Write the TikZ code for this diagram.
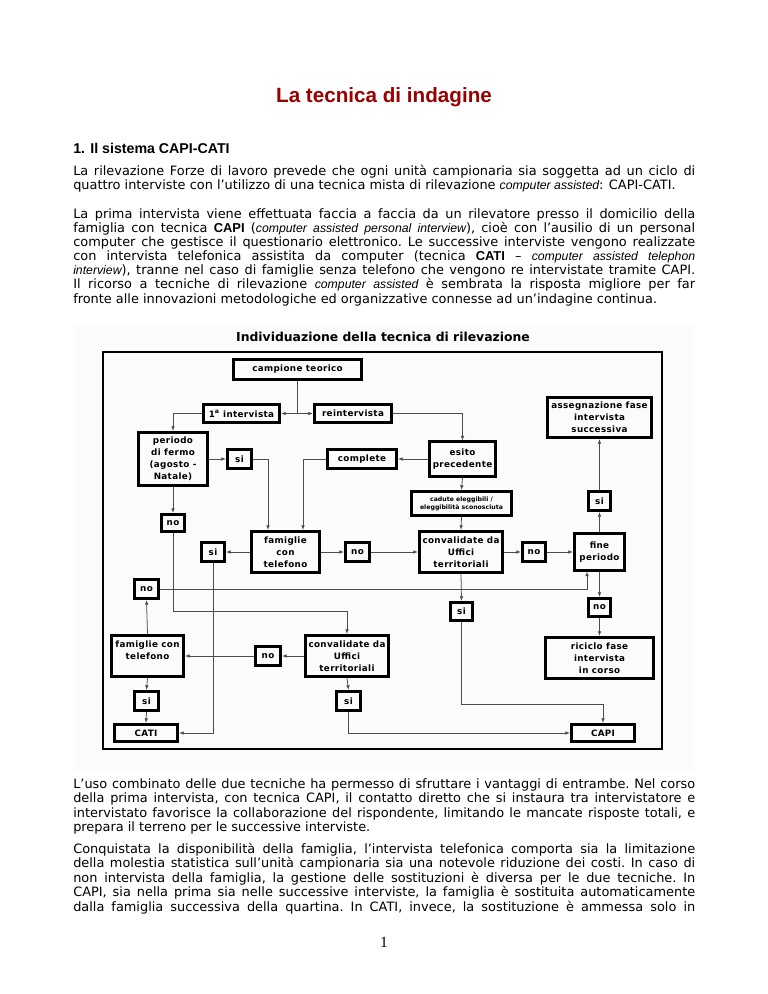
\documentclass[tikz,border=0pt]{standalone}
\usepackage{fontspec}
\setmainfont{DejaVu Sans}
\newfontfamily\arialf{Liberation Sans}
\newfontfamily\serf{Liberation Serif}
\newfontfamily\chartf[LetterSpace=4]{DejaVu Sans}
\newfontfamily\chartg{DejaVu Sans}
\usetikzlibrary{arrows.meta,calc}
\definecolor{titred}{RGB}{153,0,0}
\newcommand{\pxu}{0.775pt}
\newdimen\textw \textw=482pt
\newcommand{\jline}[1]{\hbox to \textw{\frenchspacing\spaceskip=0.318em plus 1fil minus 0.06em\relax #1}}
\newcommand{\itx}[1]{{\arialf\itshape\fontsize{9.5}{11}\selectfont #1}}
\newcommand{\bfx}[1]{{\arialf\bfseries #1}}
\tikzset{
	box/.style={draw, line width=2pt, align=center, inner sep=0pt, font=\chartf\bfseries\fontsize{6.8}{9.3}\selectfont},
	bx/.style 2 args={minimum width=(#1-2.5)*\pxu, minimum height=(#2-2.5)*\pxu},
	ln/.style={draw=black!70, line width=0.6pt},
	arr/.style={ln, -{Latex[length=3.6pt,width=2.8pt]}},
	txt/.style={anchor=base west, inner sep=0pt, font=\fontsize{10}{12}\selectfont}
}
\begin{document}
\begin{tikzpicture}[x=0.775pt, y=-0.775pt]
	\useasboundingbox (0,0) rectangle (768,994);
	\fill[white] (0,0) rectangle (768,994);
	\node[anchor=base, inner sep=0pt, text=titred, font=\arialf\bfseries\fontsize{16}{19}\selectfont] (title) at (384,102) {La tecnica di indagine};
	\node[txt, font=\arialf\bfseries\fontsize{11}{13}\selectfont] (head) at (73,153) {1. Il sistema CAPI-CATI};
	\node[txt] at (73,175) {\jline{La rilevazione Forze di lavoro prevede che ogni unità campionaria sia soggetta ad un ciclo di}};
	\node[txt] at (73,189) {quattro interviste con l’utilizzo di una tecnica mista di rilevazione \itx{computer assisted}: CAPI-CATI.};
	\foreach \lin [count=\i from 0] in {
		{La prima intervista viene effettuata faccia a faccia da un rilevatore presso il domicilio della},
		{famiglia con tecnica \bfx{CAPI} (\itx{computer assisted personal interview}), cioè con l’ausilio di un personal},
		{computer che gestisce il questionario elettronico. Le successive interviste vengono realizzate},
		{con intervista telefonica assistita da computer (tecnica \bfx{CATI} – \itx{computer assisted telephon}},
		{\itx{interview}), tranne nel caso di famiglie senza telefono che vengono re intervistate tramite CAPI.},
		{Il ricorso a tecniche di rilevazione \itx{computer assisted} è sembrata la risposta migliore per far}}
		\node[txt] at (73,218+14.17*\i) {\jline{\lin}};
	\node[txt] at (73,303) {fronte alle innovazioni metodologiche ed organizzative connesse ad un’indagine continua.};

	\fill[black!1.5] (73,325) rectangle (695,770);
	\draw[line width=1.6pt] (103,352) rectangle (662,749);
	\node[font=\chartg\bfseries\fontsize{9.6}{11}\selectfont] (ctitle) at (383,337) {Individuazione della tecnica di rilevazione};

	\node[box, bx={131}{23}] (camp) at (297.5,369.5) {campione teorico};
	\node[box, bx={79}{21}] (prima) at (241.5,413.5) {1\textsuperscript{a} intervista};
	\node[box, bx={80}{21}] (reint) at (353,413.5) {reintervista};
	\node[box, bx={107}{43}] (asseg) at (599.5,417.5) {assegnazione fase\\intervista\\successiva};
	\node[box, bx={72}{56}] (periodo) at (173,459) {periodo\\di fermo\\(agosto -\\Natale)};
	\node[box, bx={27}{22}] (si1) at (239.5,459) {si};
	\node[box, bx={72}{22}] (compl) at (362,459) {complete};
	\node[box, bx={69}{37}] (esito) at (462.5,459) {esito\\precedente};
	\node[box, bx={103}{27}, font=\chartg\bfseries\fontsize{4.8}{6.4}\selectfont] (cadute) at (461.5,503.5) {cadute eleggibili /\\eleggibilità sconosciuta};
	\node[box, bx={25}{22}] (siR) at (599.5,501) {si};
	\node[box, bx={26}{20}] (no1) at (173,523) {no};
	\node[box, bx={26}{22}] (si2) at (213,552) {si};
	\node[box, bx={71}{44}] (fam1) at (285.5,552) {famiglie\\con\\telefono};
	\node[box, bx={27}{21}] (noM) at (357.5,552) {no};
	\node[box, bx={86}{44}] (conv1) at (461,552) {convalidate da\\Uffici\\territoriali};
	\node[box, bx={26}{21}] (noR) at (534,552) {no};
	\node[box, bx={53}{39}] (fine) at (599.5,552) {fine\\periodo};
	\node[box, bx={27}{22}] (no2) at (146.5,589) {no};
	\node[box, bx={25}{21}] (si3) at (461.5,611.5) {si};
	\node[box, bx={25}{21}] (noR2) at (599.5,607.5) {no};
	\node[box, bx={75}{44}] (fam2) at (147.5,656) {famiglie con\\telefono\\~};
	\node[box, bx={28}{21}] (noL) at (268,656) {no};
	\node[box, bx={86}{44}] (conv2) at (347,656) {convalidate da\\Uffici\\territoriali};
	\node[box, bx={111}{44}] (ricic) at (599.5,658) {riciclo fase\\intervista\\in corso};
	\node[box, bx={27}{22}] (siL) at (146.5,701) {si};
	\node[box, bx={27}{22}] (siM) at (348.5,701) {si};
	\node[box, bx={66}{20}] (cati) at (146,733) {CATI};
	\node[box, bx={66}{20}] (capi) at (603,733) {CAPI};

	\draw[ln] (camp.south) -- (camp.south |- prima.east) coordinate (split);
	\draw[arr] (split) -- (prima.east);
	\draw[arr] (split) -- (reint.west);
	\draw[arr] (prima.west) -| (periodo.north);
	\draw[arr] (reint.east) -| (esito.north);
	\draw[arr] (periodo.east) -- (si1.west);
	\draw[arr] (si1.east) -| ($(fam1.north)+(-17.5,0)$);
	\draw[arr] (compl.west) -| ($(fam1.north)+(17.5,0)$);
	\draw[arr] (esito.west) -- (compl.east);
	\draw[arr] (esito.south) -- (cadute.north);
	\draw[arr] (cadute.south) -- (conv1.north);
	\draw[arr] (periodo.south) -- (no1.north);
	\draw[arr] (fam1.west) -- (si2.east);
	\draw[arr] (fam1.east) -- (noM.west);
	\draw[arr] (noM.east) -- (conv1.west);
	\draw[arr] (conv1.east) -- (noR.west);
	\draw[arr] (noR.east) -- (fine.west);
	\draw[arr] (fine.north) -- (siR.south);
	\draw[arr] (siR.north) -- (asseg.south);
	\draw[arr] (fine.south) -- (noR2.north);
	\draw[arr] (noR2.south) -- (ricic.north);
	\draw[arr] (conv1.south) -- (si3.north);
	\draw[arr] (no1.south) |- ($(conv2.north)+(0,-23)$) -- (conv2.north);
	\draw[arr] (no2.east) -| ($(fine.south)+(-12.5,0)$);
	\draw[arr] (fam2.north) -- (no2.south);
	\draw[arr] (conv2.west) -- (noL.east);
	\draw[arr] (noL.west) -- (fam2.east);
	\draw[arr] (fam2.south) -- (siL.north);
	\draw[arr] (siL.south) -- (cati.north);
	\draw[arr] (conv2.south) -- (siM.north);
	\draw[arr] (siM.south) |- (capi.west);
	\draw[arr] (si2.south) |- (cati.east);
	\draw[arr] (si3.south) |- ($(capi.north)+(0,-19)$) -- (capi.north);

	\node[txt] at (73,788) {\jline{L’uso combinato delle due tecniche ha permesso di sfruttare i vantaggi di entrambe. Nel corso}};
	\node[txt] at (73,802.5) {\jline{della prima intervista, con tecnica CAPI, il contatto diretto che si instaura tra intervistatore e}};
	\node[txt] at (73,817) {\jline{intervistato favorisce la collaborazione del rispondente, limitando le mancate risposte totali, e}};
	\node[txt] at (73,831.5) {prepara il terreno per le successive interviste.};
	\foreach \lin [count=\i from 0] in {
		{Conquistata la disponibilità della famiglia, l’intervista telefonica comporta sia la limitazione},
		{della molestia statistica sull’unità campionaria sia una notevole riduzione dei costi. In caso di},
		{non intervista della famiglia, la gestione delle sostituzioni è diversa per le due tecniche. In},
		{CAPI, sia nella prima sia nelle successive interviste, la famiglia è sostituita automaticamente},
		{dalla famiglia successiva della quartina. In CATI, invece, la sostituzione è ammessa solo in}}
		\node[txt] at (73,853+14.5*\i) {\jline{\lin}};
	\node[anchor=base, inner sep=0pt, font=\serf\fontsize{12}{14}\selectfont] (pnum) at (384,947) {1};
\end{tikzpicture}
\end{document}
